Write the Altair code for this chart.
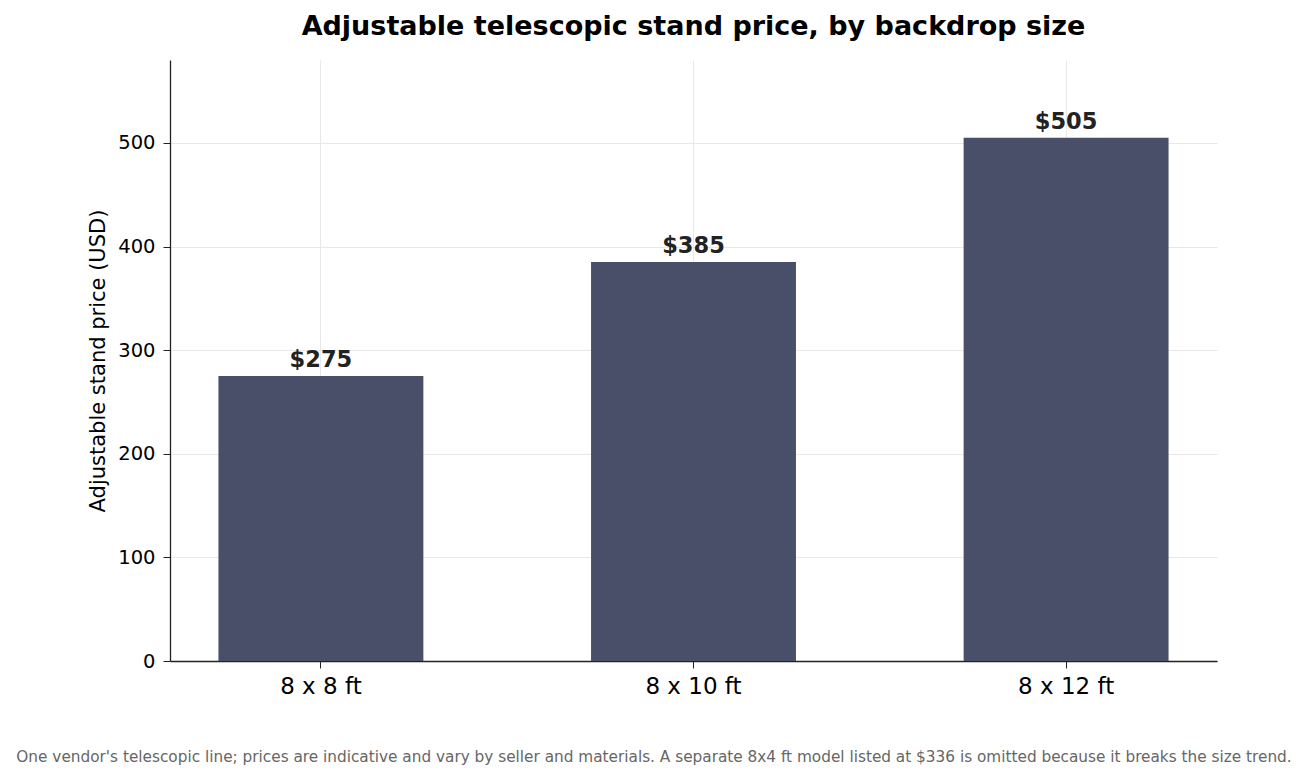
import pandas as pd
import altair as alt

# Data
sizes = ["8 x 8 ft", "8 x 10 ft", "8 x 12 ft"]
prices = [275, 385, 505]
labels = ["$275", "$385", "$505"]

footnote = ("One vendor's telescopic line; prices are indicative and vary by seller and materials. "
            "A separate 8x4 ft model listed at $336 is omitted because it breaks the size trend.")

df = pd.DataFrame({"size": sizes, "price": prices, "label": labels})

FONT = "DejaVu Sans"
BAR = "#4a4f69"

x_enc = alt.X(
    "size:N", sort=sizes, title=None,
    scale=alt.Scale(paddingInner=0.45, paddingOuter=0.13),
    axis=alt.Axis(labelAngle=0, labelFontSize=23, labelColor="#000", labelPadding=7,
                  tickSize=7, tickColor="#222", domainColor="#222", domainWidth=1.3,
                  grid=True, gridColor="#e8e8e8"),
)
y_enc = alt.Y(
    "price:Q", title="Adjustable stand price (USD)",
    scale=alt.Scale(domain=[0, 580], nice=False),
    axis=alt.Axis(values=[0, 100, 200, 300, 400, 500], labelFontSize=19.5, labelColor="#000",
                  labelPadding=8, tickSize=7, tickColor="#222", domainColor="#222",
                  domainWidth=1.3, titleFontSize=21, titleFontWeight="normal",
                  titleColor="#000", titlePadding=9, gridColor="#e8e8e8"),
)

base = alt.Chart(df)

bars = base.mark_bar(color=BAR).encode(x=x_enc, y=y_enc)

texts = base.mark_text(baseline="bottom", dy=-4, fontSize=22.5, fontWeight="bold",
                       color="#222", font=FONT).encode(
    x=alt.X("size:N", sort=sizes), y="price:Q", text="label:N")

note = alt.Chart(pd.DataFrame({"t": [footnote]})).mark_text(
    fontSize=15.3, color="#666", font=FONT, align="center", baseline="middle"
).encode(x=alt.value(484), y=alt.value(697), text="t:N")

chart = alt.layer(bars, texts, note).properties(
    width=1047, height=601,
    autosize=alt.AutoSizeParams(type="none"),
    padding={"left": 162, "top": 52, "right": 83, "bottom": 111},
    title=alt.Title("Adjustable telescopic stand price, by backdrop size",
                    fontSize=27, fontWeight="bold", font=FONT, color="#000",
                    anchor="middle", offset=19),
).configure(font=FONT).configure_view(stroke=None)

chart.save("out.html", embed_options={"renderer": "svg", "actions": False})
